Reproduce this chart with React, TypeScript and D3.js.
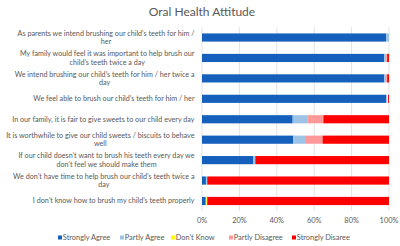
import React, { useEffect, useRef } from "react";
import * as d3 from "d3";

const categories = [
  "As parents we intend brushing our child’s teeth for him /\nher",
  "My family would feel it was important to help brush our\nchild’s teeth twice a day",
  "We intend brushing our child’s teeth for him / her twice a\nday",
  "We feel able to brush our child’s teeth for him / her",
  "In our family, it is fair to give sweets to our child every day",
  "It is worthwhile to give our child sweets / biscuits to behave\nwell",
  "If our child doesn’t want to brush his teeth every day we\ndon’t feel we should make them",
  "We don’t have time to help brush our child’s teeth twice a\nday",
  "I don’t know how to brush my child’s teeth properly",
];

const seriesNames = ["Strongly Agree", "Partly Agree", "Don't Know", "Partly Disagree", "Strongly Disaree"];
const seriesColors = ["#1560BD", "#9DC3E6", "#FFFF00", "#FF9999", "#FF0000"];

const stronglyAgree = [98.4, 97.5, 97.5, 98.5, 48.5, 48.8, 27.5, 2.1, 2.0];
const partlyAgree = [1.6, 1.0, 1.0, 0.5, 7.8, 6.8, 1.0, 0.7, 0.3];
const dontKnow = [0, 0, 0, 0.5, 0, 0, 0, 0, 0.5];
const partlyDisagree = [0, 0.5, 0.5, 0, 8.6, 8.9, 0, 0, 0];
const stronglyDisagree = [0, 1.0, 1.0, 0.5, 35.1, 35.5, 71.5, 97.2, 97.2];

const xTicks = [0, 20, 40, 60, 80, 100];

export default function App() {
  const ref = useRef<SVGSVGElement>(null);
  useEffect(() => {
    const svg = d3.select(ref.current);
    svg.selectAll("*").remove();
    const font = "Lato, 'Open Sans', sans-serif";
    const x = d3.scaleLinear().domain([0, 100]).range([202, 389]);
    const y = d3.scaleBand<number>().domain(d3.range(categories.length)).range([27.3, 211.2]).paddingInner(0.6).paddingOuter(0.3);

    svg.append("text").attr("x", 202).attr("y", 16).attr("text-anchor", "middle")
      .attr("font-family", font).attr("font-size", 12).attr("fill", "#595959").text("Oral Health Attitude");

    svg.append("g").selectAll("line").data(xTicks).join("line")
      .attr("x1", d => x(d)).attr("x2", d => x(d)).attr("y1", 27).attr("y2", 211)
      .attr("stroke", "#D9D9D9").attr("stroke-width", 0.75);

    const table = categories.map((c, i) => ({
      i,
      s0: stronglyAgree[i], s1: partlyAgree[i], s2: dontKnow[i], s3: partlyDisagree[i], s4: stronglyDisagree[i],
    }));
    const keys = ["s0", "s1", "s2", "s3", "s4"];
    const stack = d3.stack<any>().keys(keys)(table);
    stack.forEach((layer, k) => {
      svg.append("g").selectAll("rect").data(layer).join("rect")
        .attr("x", d => x(d[0])).attr("width", d => Math.max(0, x(d[1]) - x(d[0])))
        .attr("y", d => y((d.data as any).i)!).attr("height", y.bandwidth())
        .attr("fill", seriesColors[k]);
    });

    // category labels
    const lg = svg.append("g");
    categories.forEach((c, i) => {
      const lines = c.split("\n");
      const g = lg.append("g");
      const lh = 8.6;
      const cy = y(i)! + y.bandwidth() / 2;
      const y0 = cy - ((lines.length - 1) * lh) / 2 + 2.5;
      const texts = lines.map((l, j) =>
        g.append("text").attr("y", y0 + j * lh).attr("text-anchor", "middle")
          .attr("font-family", font).attr("font-size", 7.2).attr("fill", "#595959").text(l)
      );
      const w = d3.max(texts.map(t => (t.node() as SVGTextElement).getComputedTextLength())) || 0;
      const cx = 194.5 - w / 2;
      texts.forEach(t => t.attr("x", cx));
    });

    svg.append("g").selectAll("text").data(xTicks).join("text")
      .attr("x", d => x(d)).attr("y", 223).attr("text-anchor", "middle")
      .attr("font-family", font).attr("font-size", 7.4).attr("fill", "#595959").text(d => d + "%");

    // legend
    const legendX = [58, 120, 171, 229, 292];
    seriesNames.forEach((n, k) => {
      svg.append("rect").attr("x", legendX[k]).attr("y", 235.5).attr("width", 4).attr("height", 4).attr("fill", seriesColors[k]);
      svg.append("text").attr("x", legendX[k] + 4.8).attr("y", 240.3).attr("font-family", font)
        .attr("font-size", 7.4).attr("fill", "#595959").text(n);
    });
  }, []);
  return (
    <svg ref={ref} width={400} height={246} style={{ position: "absolute", left: 0, top: 0, background: "#fff" }} />
  );
}
